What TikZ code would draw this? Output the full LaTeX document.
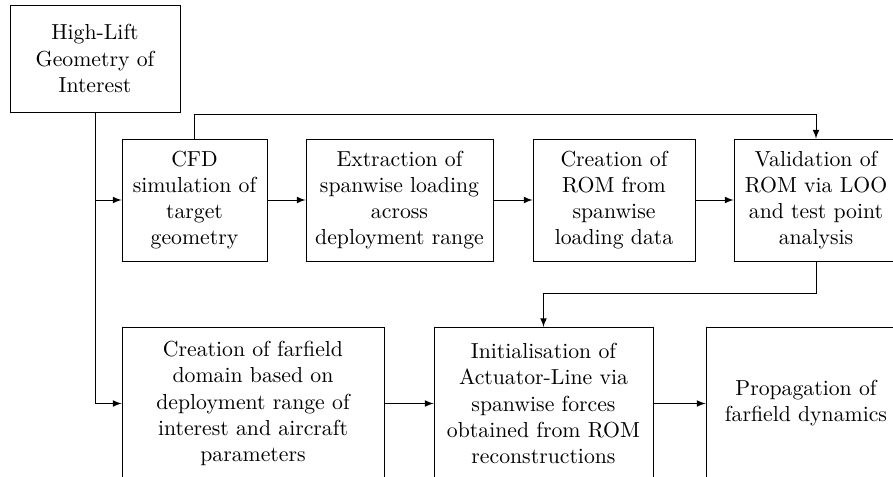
\documentclass[tikz,border=0pt]{standalone}
\usepackage{tikz}
\usetikzlibrary{arrows.meta, positioning}

\begin{document}
\begin{tikzpicture}[x=0.46pt, y=-0.46pt,
    box/.style={draw, align=center, inner sep=2pt},
    flow/.style={-latex}]
    \clip (0,0) rectangle (893,477);

    % Input geometry
    \node[box, minimum width=78.2pt, minimum height=49.2pt] (hl) at (95,58.5)
        {High-Lift\\Geometry of\\Interest};

    % Top row: CFD and ROM construction
    \node[box, minimum width=66.7pt, minimum height=56.1pt] (cfd) at (194.5,200)
        {CFD\\simulation of\\target\\geometry};
    \node[box, minimum width=86pt, minimum height=56.1pt] (ext) at (399.5,200)
        {Extraction of\\spanwise loading\\across\\deployment range};
    \node[box, minimum width=74.5pt, minimum height=56.1pt] (rom) at (614,200)
        {Creation of\\ROM from\\spanwise\\loading data};
    \node[box, minimum width=75.4pt, minimum height=56.1pt] (val) at (816,200)
        {Validation of\\ROM via LOO\\and test point\\analysis};

    % Bottom row: farfield and actuator line
    \node[box, minimum width=120.5pt, minimum height=70pt] (ff) at (253,403.5)
        {Creation of farfield\\domain based on\\deployment range of\\interest and aircraft\\parameters};
    \node[box, minimum width=100.7pt, minimum height=70pt] (init) at (543.5,403.5)
        {Initialisation of\\Actuator-Line via\\spanwise forces\\obtained from ROM\\reconstructions};
    \node[box, minimum width=92pt, minimum height=70pt] (prop) at (806,403.5)
        {Propagation of\\farfield dynamics};

    % Connectors
    \draw[flow] (hl.south) |- (cfd.west);
    \draw[flow] (hl.south) |- (ff.west);
    \draw[flow] (cfd) -- (ext);
    \draw[flow] (ext) -- (rom);
    \draw[flow] (rom) -- (val);
    \draw[flow] (cfd.north) -- ++(0,-24) -| (val.north);
    \draw[flow] (val.south) -- ++(0,32) -| (init.north);
    \draw[flow] (ff) -- (init);
    \draw[flow] (init) -- (prop);
\end{tikzpicture}
\end{document}
